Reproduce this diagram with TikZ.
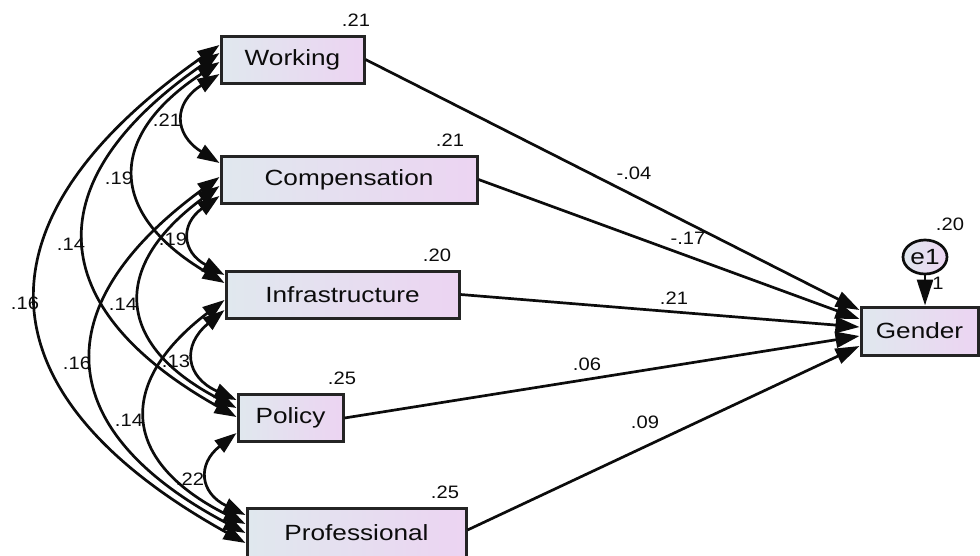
\documentclass[tikz,border=0pt]{standalone}
\usepackage{fontspec}
\setmainfont{Liberation Sans}
\usepackage{graphicx}
\usetikzlibrary{arrows.meta,shapes.geometric,calc}

\definecolor{boxL}{RGB}{224,232,238}
\definecolor{boxR}{RGB}{236,212,242}
\definecolor{ink}{RGB}{12,12,12}
\newcommand\sxx[1]{\scalebox{1.19}[1]{#1}}
\newcommand\syy[1]{\scalebox{1.12}[1]{#1}}

\begin{document}
\begin{tikzpicture}[x=1pt,y=-1pt,
  vbox/.style={draw=ink!90, line width=3pt, left color=boxL, right color=boxR,
    inner sep=0pt, minimum height=47pt, font=\fontsize{22}{24}\selectfont, text=ink},
  lbl/.style={font=\fontsize{18}{20}\selectfont, text=ink, inner sep=0pt},
  reg/.style={line width=2.7pt, draw=ink, -{Triangle[length=24pt,width=16pt]}},
  cov/.style={line width=2.7pt, draw=ink,
    {Triangle[length=22pt,width=15pt]}-{Triangle[length=22pt,width=15pt]},
    bend right=58, looseness=1.57}]
\useasboundingbox (0,0) rectangle (980,555);

% boxes
\node[vbox, minimum width=143pt] (W) at (292.5,59.5) {\sxx{Working}};
\node[vbox, minimum width=256pt] (C) at (349,179.5) {\sxx{Compensation}};
\node[vbox, minimum width=233pt] (I) at (342.5,294.5) {\sxx{Infrastructure}};
\node[vbox, minimum width=105pt] (P) at (290.5,418) {\sxx{Policy}};
\node[vbox, minimum width=219pt, minimum height=49pt] (R) at (356.5,532.5) {\sxx{Professional}};
\node[vbox, minimum width=117pt, minimum height=48pt] (G) at (919.5,331) {\sxx{Gender}};
\node[ellipse, draw=ink, line width=2.7pt, left color=boxL, right color=boxR,
  minimum width=44pt, minimum height=34pt, inner sep=0pt,
  font=\fontsize{22}{24}\selectfont, text=ink] (E) at (925,257) {\sxx{e1}};

% attachment points
\coordinate (w5) at (W.west |- 0,45);
\coordinate (w4) at (W.west |- 0,53);
\coordinate (w3) at (W.west |- 0,62);
\coordinate (w2) at (W.west |- 0,74);
\coordinate (c1) at (C.west |- 0,163);
\coordinate (c5) at (C.west |- 0,177);
\coordinate (c4) at (C.west |- 0,186);
\coordinate (c3) at (C.west |- 0,196);
\coordinate (i2) at (I.west |- 0,275);
\coordinate (i1) at (I.west |- 0,283);
\coordinate (i5) at (I.west |- 0,300);
\coordinate (i4) at (I.west |- 0,310);
\coordinate (p3) at (P.west |- 0,400);
\coordinate (p2) at (P.west |- 0,408);
\coordinate (p1) at (P.west |- 0,417);
\coordinate (p5) at (P.west |- 0,433);
\coordinate (r4) at (R.west |- 0,515);
\coordinate (r3) at (R.west |- 0,524);
\coordinate (r2) at (R.west |- 0,533);
\coordinate (r1) at (R.west |- 0,543);
\coordinate (g1) at (G.west |- 0,310);
\coordinate (g2) at (G.west |- 0,319);
\coordinate (g3) at (G.west |- 0,327);
\coordinate (g4) at (G.west |- 0,336);
\coordinate (g5) at (G.west |- 0,346);
\coordinate (gt) at (G.north -| E.south);
\coordinate (rs) at (R.east |- 0,530);

% labels
\node[lbl] (vW) at (356,20) {\syy{.21}};
\node[lbl] (vC) at (450,140) {\syy{.21}};
\node[lbl] (vI) at (437,255) {\syy{.20}};
\node[lbl] (vP) at (342,378) {\syy{.25}};
\node[lbl] (vR) at (445,492) {\syy{.25}};
\node[lbl] (vG) at (950,224) {\syy{.20}};
\node[lbl] (one) at (938,283) {\syy{1}};

\node[lbl] (bW) at (634,173) {\syy{-.04}};
\node[lbl] (bC) at (688,238) {\syy{-.17}};
\node[lbl] (bI) at (674,298) {\syy{.21}};
\node[lbl] (bP) at (587,364) {\syy{.06}};
\node[lbl] (bR) at (645,422) {\syy{.09}};

\node[lbl] (kWC) at (167,120) {\syy{.21}};
\node[lbl] (kWI) at (119,178) {\syy{.19}};
\node[lbl] (kWP) at (71,244) {\syy{.14}};
\node[lbl] (kWR) at (25,303) {\syy{.16}};
\node[lbl] (kCI) at (173,239) {\syy{.19}};
\node[lbl] (kCP) at (123,304) {\syy{.14}};
\node[lbl] (kCR) at (77,363) {\syy{.16}};
\node[lbl] (kIP) at (176,361) {\syy{.13}};
\node[lbl] (kIR) at (129,420) {\syy{.14}};
\node[lbl] (kPR) at (190,479) {\syy{.22}};

% covariances
\draw[cov] (w2) to (c1);
\draw[cov] (w3) to (i1);
\draw[cov] (w4) to (p1);
\draw[cov] (w5) to (r1);
\draw[cov] (c3) to (i2);
\draw[cov] (c4) to (p2);
\draw[cov] (c5) to (r2);
\draw[cov] (i4) to (p3);
\draw[cov] (i5) to (r3);
\draw[cov] (p5) to (r4);

% regressions
\draw[reg] (W.east) -- (g1);
\draw[reg] (C.east) -- (g2);
\draw[reg] (I.east) -- (g3);
\draw[reg] (P.east) -- (g4);
\draw[reg] (rs) -- (g5);
\draw[line width=2.7pt, draw=ink, -{Triangle[length=26pt,width=16pt]}] (E.south) -- (gt);
\end{tikzpicture}
\end{document}
